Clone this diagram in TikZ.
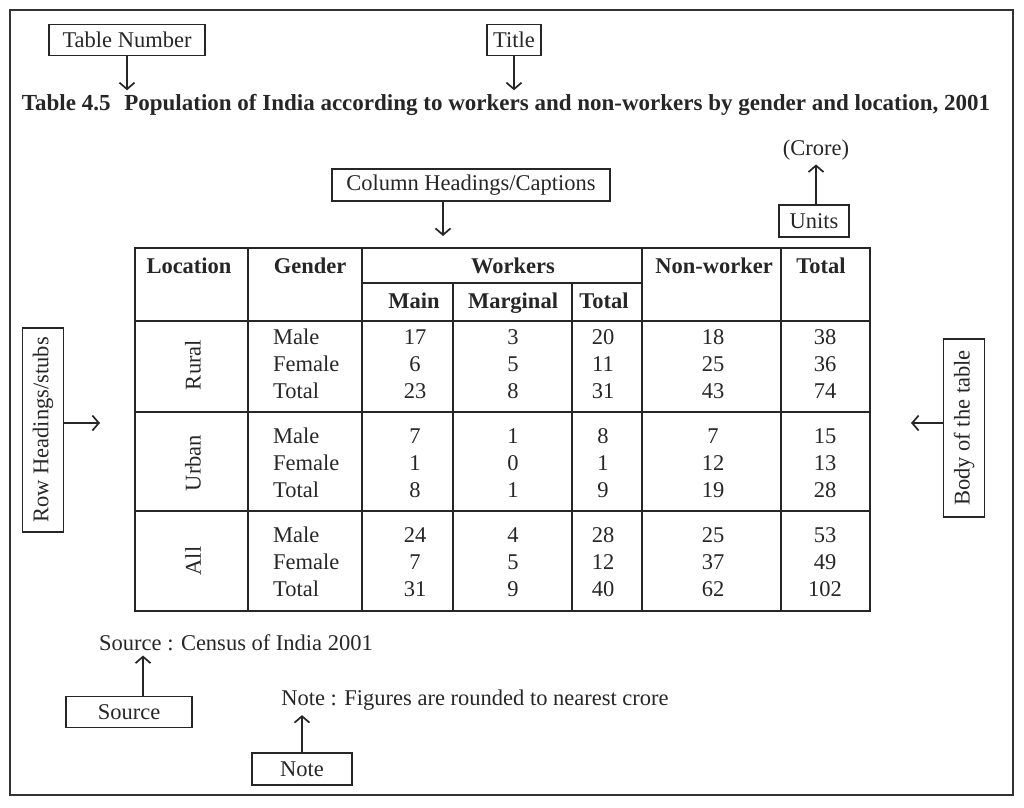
\documentclass[tikz,border=0pt]{standalone}
\usepackage{fontspec}
\setmainfont{Liberation Serif}
\usetikzlibrary{arrows.meta,positioning}
\tikzset{
frame/.style={draw, line width=1.8pt, black!80},
label box/.style={draw, line width=1.7pt, black!85, text=black!85, inner sep=2pt, minimum height=31pt, font=\fontsize{22.5}{26}\selectfont},
pointer/.style={->, >={Straight Barb[length=6.5pt,width=15pt]}, line width=1.7pt, black!85},
rule/.style={line width=1.7pt, black!85},
cell/.style={anchor=base, inner sep=0pt, text=black!85, font=\fontsize{22.5}{26}\selectfont},
head/.style={cell, font=\bfseries\fontsize{22.5}{26}\selectfont},
}

\begin{document}
\begin{tikzpicture}[x=1pt, y=-1pt]
    \useasboundingbox (0,0) rectangle (1024,807);
    \draw[frame] (10,10) rectangle (1013,795);

    % table number and title
    \node[label box, minimum width=156pt] (tnum) at (127,40) {Table Number};
    \node[label box, minimum width=54pt] (tbox) at (514,40) {Title};
    \node[anchor=base, text=black!85, font=\bfseries\fontsize{23}{26}\selectfont] (title) at (506,110)
        {Table 4.5\hspace{0.6em}Population of India according to workers and non-workers by gender and location, 2001};
    \draw[pointer] (tnum.south) -- (tnum.south |- title.north);
    \draw[pointer] (tbox.south) -- (tbox.south |- title.north);

    % units
    \node[cell, anchor=center, inner sep=4pt] (crore) at (816,150) {(Crore)};
    \node[label box, minimum width=70pt, minimum height=32pt] (units) at (814,221) {Units};
    \draw[pointer] (units.north -| crore) -- (crore.south);

    % column headings
    \node[label box, minimum width=278pt, minimum height=32pt] (colhead) at (471,185) {Column Headings/Captions};
    \coordinate (colhead-tip) at (443,236);
    \draw[pointer] (colhead.south -| colhead-tip) -- (colhead-tip);

    % grid of the table
    \draw[rule] (135,248) rectangle (870,611);
    \foreach \x in {248,362,642,781}
        \draw[rule] (\x,248) -- (\x,611);
    \foreach \x in {453,572}
        \draw[rule] (\x,283) -- (\x,611);
    \draw[rule] (362,283) -- (642,283);
    \foreach \y in {321,412,511}
        \draw[rule] (135,\y) -- (870,\y);

    % headings
    \node[head] (h-loc) at (189,273) {Location};
    \node[head] (h-gen) at (310,273) {Gender};
    \node[head] (h-work) at (513,273) {Workers};
    \node[head] (h-non) at (714,273) {Non-worker};
    \node[head] (h-tot) at (821,273) {Total};
    \node[head] (h-main) at (414,308) {Main};
    \node[head] (h-marg) at (513,308) {Marginal};
    \node[head] (h-wtot) at (604,308) {Total};

    % row headings
    \foreach \loc/\y in {Rural/365, Urban/463, All/561}
        \node[cell, anchor=center, rotate=90] (loc-\loc) at (193,\y) {\loc};

    % body
    \foreach \y/\g/\m/\mg/\t/\n/\tt [count=\i] in {
        344/Male/17/3/20/18/38, 371/Female/6/5/11/25/36, 398/Total/23/8/31/43/74,
        443/Male/7/1/8/7/15, 470/Female/1/0/1/12/13, 497/Total/8/1/9/19/28,
        542/Male/24/4/28/25/53, 569/Female/7/5/12/37/49, 596/Total/31/9/40/62/102} {
        \node[cell, anchor=base west] (gen-\i) at (273,\y) {\g};
        \node[cell] (main-\i) at (415,\y) {\m};
        \node[cell] (marg-\i) at (513,\y) {\mg};
        \node[cell] (wtot-\i) at (603,\y) {\t};
        \node[cell] (non-\i) at (713,\y) {\n};
        \node[cell] (tot-\i) at (825,\y) {\tt};
    }

    % side labels
    \node[label box, rotate=90, minimum width=204pt, minimum height=41pt] (rowhead) at (43,430) {Row Headings/stubs};
    \coordinate (rowhead-tip) at (100,423);
    \draw[pointer] (rowhead.south |- rowhead-tip) -- (rowhead-tip);
    \node[label box, rotate=90, minimum width=178pt, minimum height=41pt] (body) at (964,428) {Body of the table};
    \coordinate (body-tip) at (911,423);
    \draw[pointer] (body.north |- body-tip) -- (body-tip);

    % source and note
    \node[cell, anchor=base, inner sep=5pt] (src) at (236,650) {Source : Census of India 2001};
    \node[label box, minimum width=126pt] (srcbox) at (129,712) {Source};
    \coordinate (src-x) at (143,0);
    \draw[pointer] (srcbox.north -| src-x) -- (src.south -| src-x);
    \node[cell, anchor=base, inner sep=5pt] (note) at (475,705) {Note : Figures are rounded to nearest crore};
    \node[label box, minimum width=100pt, minimum height=32pt] (notebox) at (302,769) {Note};
    \draw[pointer] (notebox.north) -- (notebox.north |- note.south);
\end{tikzpicture}
\end{document}
